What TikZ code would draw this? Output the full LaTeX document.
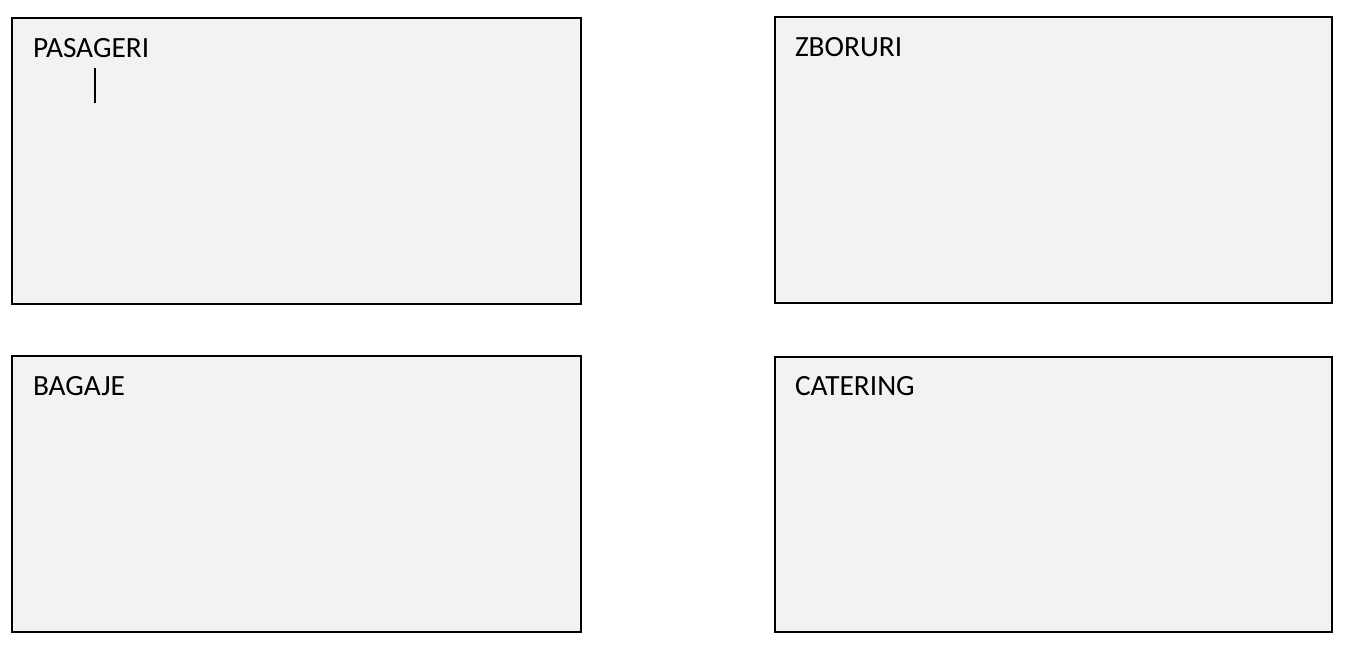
\documentclass[tikz,border=0pt]{standalone}
\usepackage{fontspec}
\setmainfont{Carlito}
\definecolor{boxgray}{HTML}{F2F2F2}

\begin{document}
\begin{tikzpicture}[x=0.02cm, y=-0.02cm,
    every node/.style={inner sep=0pt, outer sep=0pt},
    panel/.style={draw, line width=1.1pt, fill=boxgray},
    title/.style={anchor=base west, font=\fontsize{16.7}{20}\selectfont}]
    \useasboundingbox (0,0) rectangle (1350,649);
    \draw[panel] (12,18) rectangle (581,304);
    \draw[panel] (775,17) rectangle (1332,303);
    \draw[panel] (12,356) rectangle (581,632);
    \draw[panel] (775,357) rectangle (1332,632);

    \node[title] (pas) at (33,57) {PASAGERI};
    \node[title] (zbo) at (795,56) {ZBORURI};
    \node[title] (bag) at (33,395) {BAGAJE};
    \node[title] (cat) at (795,395) {CATERING};

    \coordinate (cursortop) at (95,68);
    \coordinate (cursorbot) at (95,103);
    \draw[line width=0.7pt] (cursortop) -- (cursorbot);
\end{tikzpicture}
\end{document}
